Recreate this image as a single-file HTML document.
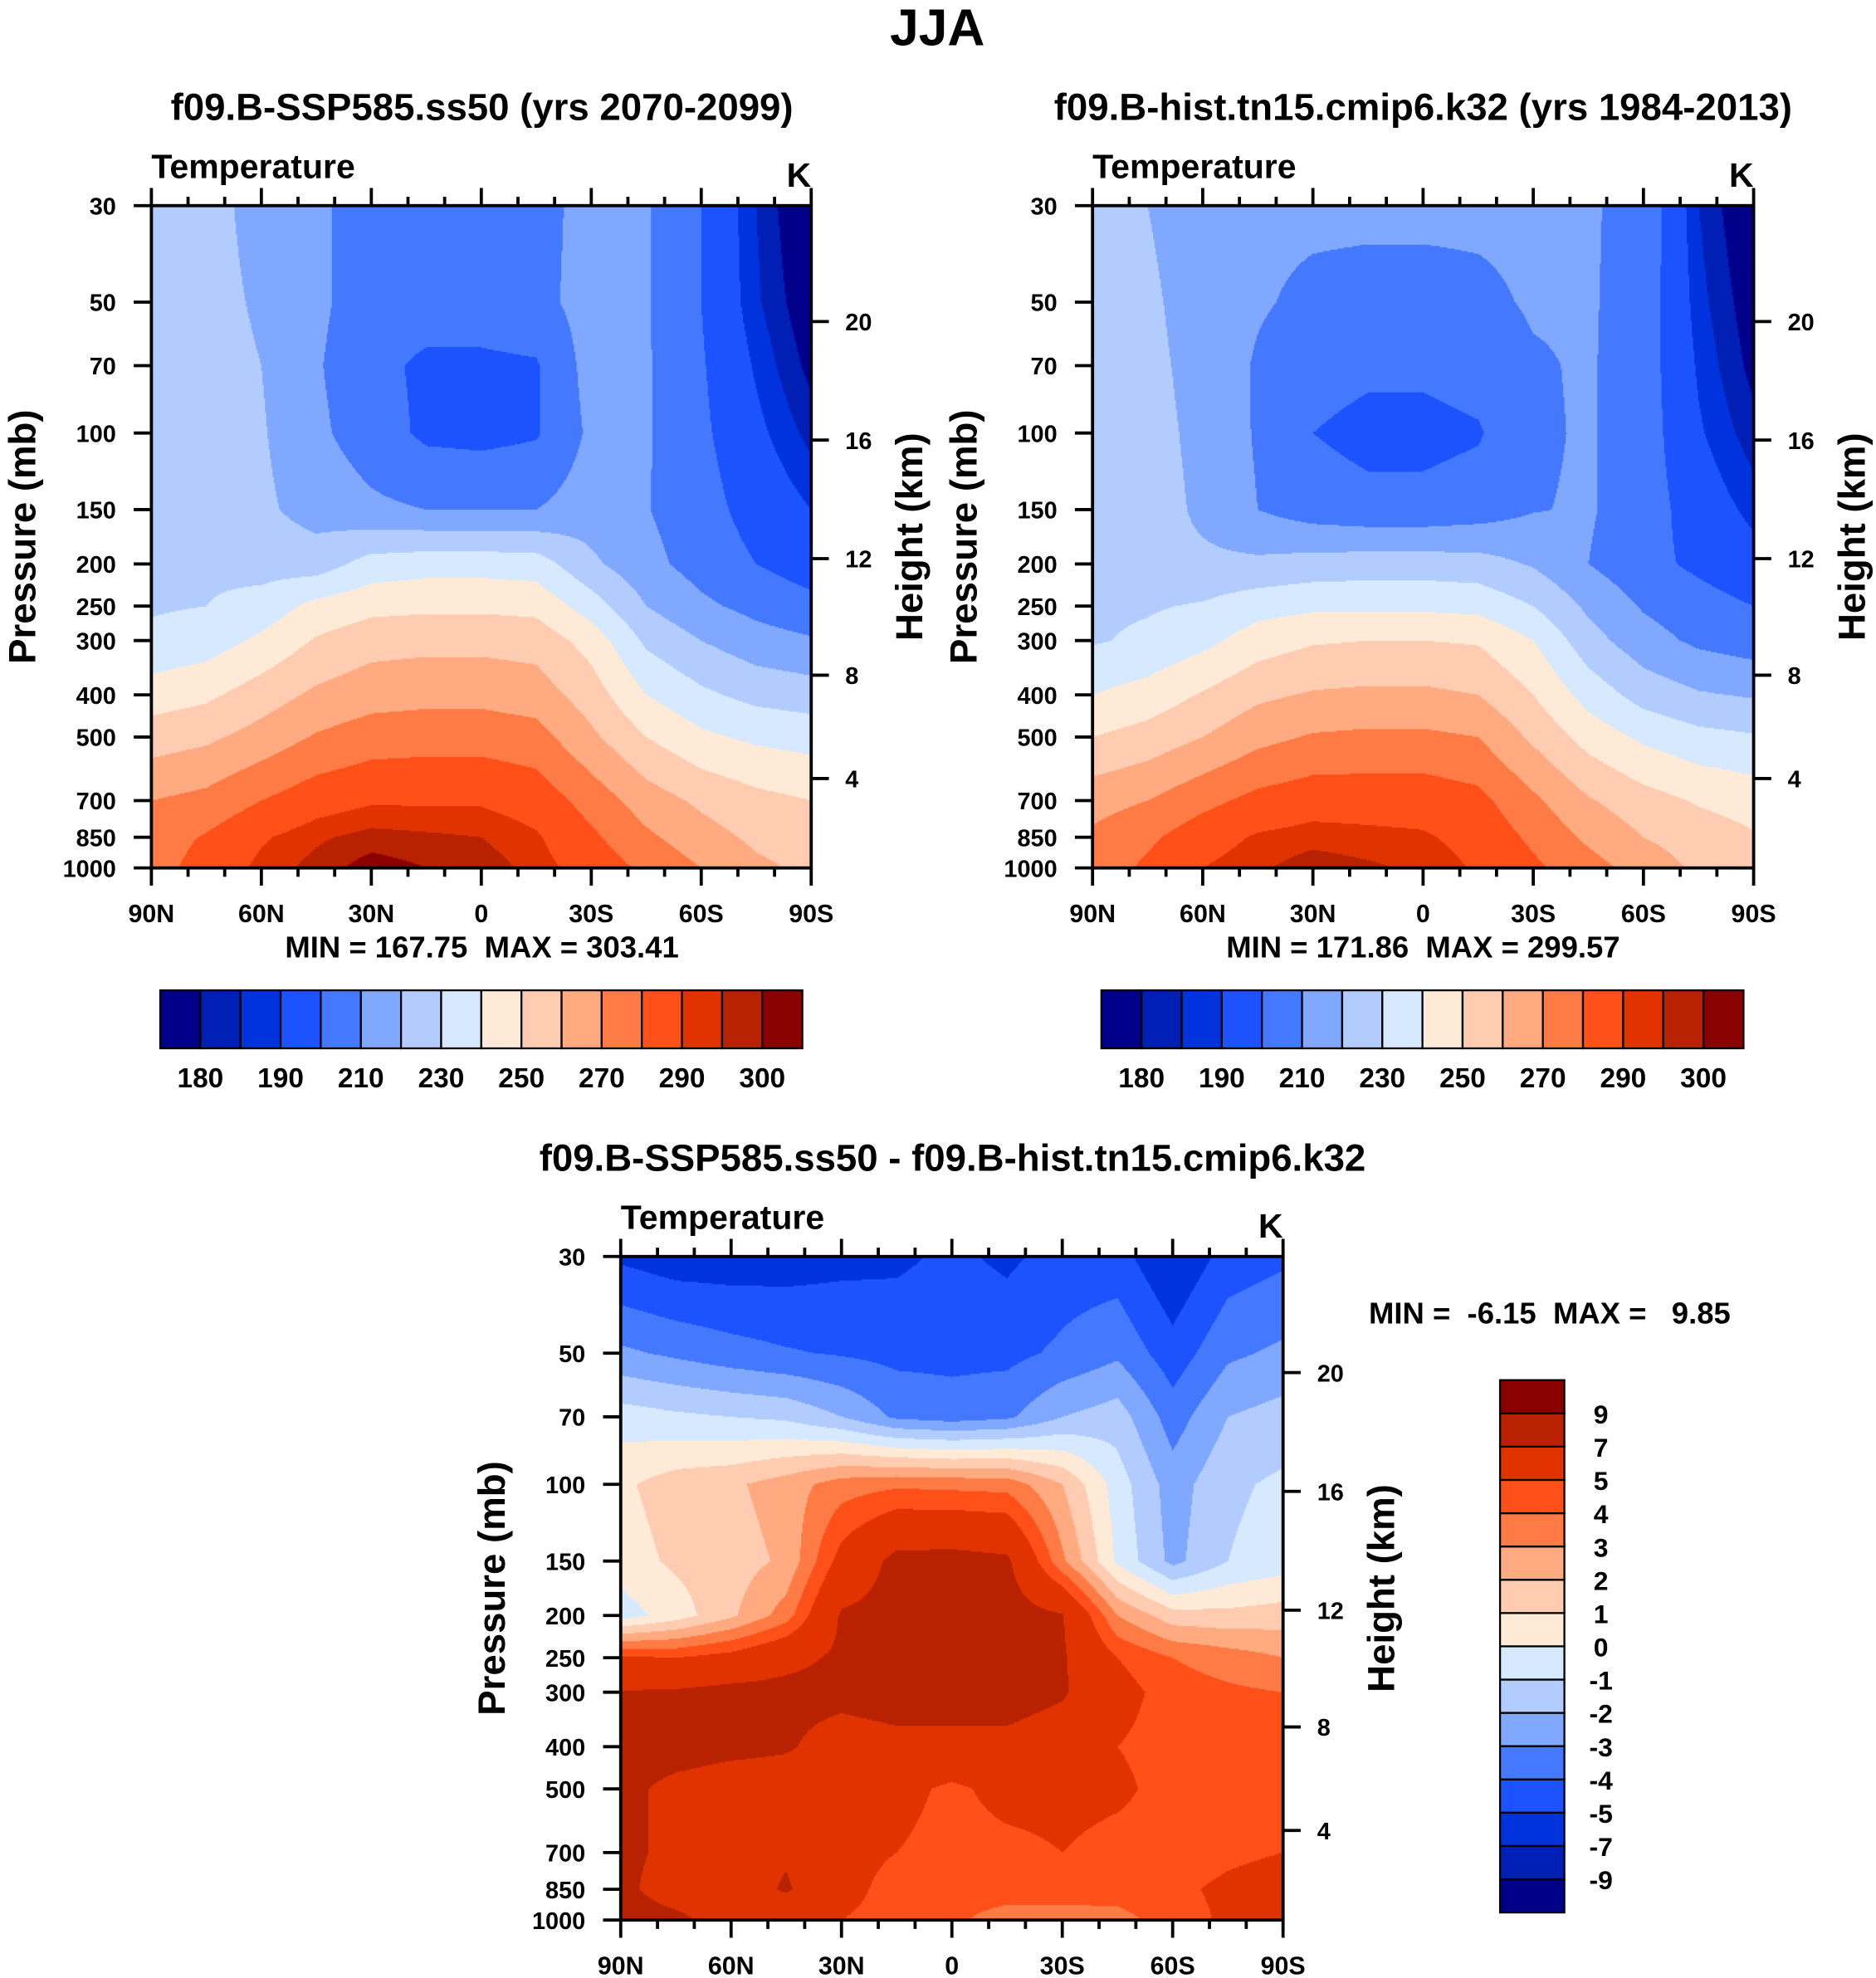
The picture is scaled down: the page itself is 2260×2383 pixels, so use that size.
<!DOCTYPE html>
<html><head><meta charset="utf-8">
<style>
html,body{margin:0;padding:0;background:#fff;}
#page{position:relative;width:1487px;height:1568px;transform:scale(1.51984);transform-origin:0 0;overflow:hidden;}
canvas{position:absolute;}
svg{position:absolute;left:0;top:0;}
text{font-family:"Liberation Sans",sans-serif;font-weight:bold;fill:#000;white-space:pre;}
</style></head>
<body>
<div id="page">
<canvas id="c1"></canvas>
<canvas id="c2"></canvas>
<canvas id="c3"></canvas>
<svg id="ov" width="1487" height="1568" viewBox="0 0 1487 1568"></svg>
</div>
<script>
// ---------- data ----------
const lats = [90,75,60,45,30,15,0,-15,-30,-45,-60,-75,-90];
const levels = [30,50,70,100,150,200,250,300,400,500,700,850,1000];
const futureT = [
[225,225,215,212,205,205,205,206,214,211,200,185,172],
[226,225,218,212,205,205,205,207,214,211,200,186,175],
[227,226,220,211,203,198,198,199,214,211,201,189,178],
[228,227,221,212,205,198,197,199,212,211,202,192,183],
[228,227,222,216,212,210,210,210,215,210.5,204,196,190],
[228,228,226,225,234,236,236,235,222,213,206,200,195],
[229,230,234,243,247,248,248,247,235,220,212,207,203],
[232,235,242,251,256,257,257,256,246,228,220,214,211],
[245,248,255,262,266,267,267,265,255,240,232,227,225],
[255,258,264,271,275,276,276,274,262,250,242,238,236],
[270,273,280,286,289,289,289,286,276,265,258,253,250],
[275,281,289,294,297,296,295,291,282,272,264,258,255],
[276,284,292,297,303,300,298,293,286,278,270,262,258]];
const histT = [
[225,220,214,212,212,212,212,212,212,211,207,185,173],
[226,222,215,211,208,207,207,208,211,211,206,187,176],
[227,223,216,209,204,202,202,204,209,211,205,189,178],
[227,224,217,209,200,197,197,199,208.5,211,205,191,182],
[227,225,218,210,205,203,203,205,209.5,211,205,195,188],
[226,222,222,222,224,225,225,224,219,210,203,198,193],
[228,229,231,236,238,238,238,237,230,218,209,204,200],
[229,232,237,245,249,250,250,249,240,224,214,208,205],
[240,244,251,258,261,262,262,260,250,236,226,221,219],
[250,254,260,267,271,272,272,270,258,246,238,233,231],
[266,270,277,283,286,286,286,283,272,261,254,249,246],
[272,278,286,291,293,292,291,287,278,268,260,255,251],
[274,282,290,294,298,296,294,289,282,274,266,258,254]];
const diffT = [
[-5.2,-5.6,-5.6,-5.5,-5.3,-5.2,-4.8,-5.2,-4.6,-4.6,-6,-4.6,-4.2],
[-2.8,-3.2,-3.6,-3.9,-4.1,-4.3,-4.3,-4.3,-3.8,-3.2,-4.6,-3.2,-2.8],
[-0.5,-0.8,-1,-1.2,-2,-3.2,-3.5,-3.2,-2,-1.5,-3.5,-2,-1.6],
[0.8,1.5,1.8,2.5,3.5,3.8,3.7,3.6,2,-0.5,-2.5,-1.2,-0.8],
[0.5,1.2,1.5,2.2,5.5,7.5,7.6,7.3,3.2,-0.2,-2.3,-1,-0.5],
[-0.5,0.5,1.8,3.5,7.2,7.6,7.8,7.8,7.1,3,1.4,1.3,1.5],
[5.2,5,5.5,6.5,7.3,7.6,7.8,7.8,7.2,5,4,3.5,3],
[7.1,7.2,7.5,7.5,7.5,7.8,7.8,7.8,7.2,5.5,4.5,4.2,4],
[8,7.8,7.5,7.2,6.2,6.5,6.5,6.5,6,5,4.5,4.5,4.3],
[7.5,6.5,6,6,5.8,5.5,4.7,5.5,5.5,5.3,4.5,4.5,4.5],
[7.5,6.5,6.5,6.8,5.5,5,4.5,4.6,5,4.5,4.5,4.8,5],
[7.5,6,6,7.2,5.5,4.5,4.5,4.5,4.5,4.5,4.8,5.2,5.5],
[8,7.5,6,5.5,5,4.5,4.2,3.5,3.5,3.6,4.5,5.2,5.5]];
const tempLevels = [180,185,190,200,210,220,230,240,250,260,270,280,290,295,300];
const tempLabels = ["180","","190","","210","","230","","250","","270","","290","","300"];
const diffLevels = [-9,-7,-5,-4,-3,-2,-1,0,1,2,3,4,5,7,9];
const pTicks = [30,50,70,100,150,200,250,300,400,500,700,850,1000];
const latTickLabels = ["90N","60N","30N","0","30S","60S","90S"];
const heightTicks = ["20","16","12","8","4"];
const heightFrac = [0.175,0.354,0.533,0.709,0.865];
const colors = ["#00008b","#001fb5","#0033dd","#1c52ff","#4479ff","#80a8ff","#b3ccff","#d6e9ff","#ffead8","#ffccb2","#ffaa80","#ff7b45","#ff5019","#e03300","#b82200","#8b0000"];

// ---------- helpers ----------
const NS="http://www.w3.org/2000/svg";
const ov=document.getElementById('ov');
function el(tag,attrs,parent,txt){const e=document.createElementNS(NS,tag);for(const k in attrs)e.setAttribute(k,attrs[k]);if(txt!==undefined)e.textContent=txt;(parent||ov).appendChild(e);return e;}
function txt(x,y,s,size,anchor,name,rot){
  const t=el('text',{x:x,y:y,'font-size':size,'text-anchor':anchor||'middle'},ov,s);
  if(rot)t.setAttribute('transform','rotate(-90 '+x+' '+y+')');
  
  
  return t;
}
function colorFor(v,lv){let i=0;while(i<lv.length&&v>=lv[i])i++;return colors[i];}
const lp0=Math.log(30),lp1=Math.log(1000);
const lpLev=levels.map(p=>Math.log(p));

function sample(data,fx,lpv){
  const xi=fx*(lats.length-1);const i0=Math.min(Math.floor(xi),lats.length-2);const tx=xi-i0;
  let j0=0;while(j0<levels.length-2&&lpv>lpLev[j0+1])j0++;
  const ty=Math.max(0,Math.min(1,(lpv-lpLev[j0])/(lpLev[j0+1]-lpLev[j0])));
  const a=data[j0][i0],b=data[j0][i0+1],c=data[j0+1][i0],d=data[j0+1][i0+1];
  return (a*(1-tx)+b*tx)*(1-ty)+(c*(1-tx)+d*tx)*ty;
}

function panel(id,X,Y,W,H,data,lv,cname){
  const cv=document.getElementById(id);
  const R=2;
  cv.width=W*R;cv.height=H*R;
  cv.style.left=X+'px';cv.style.top=Y+'px';cv.style.width=W+'px';cv.style.height=H+'px';
  const ctx=cv.getContext('2d');
  const step=2;
  for(let py=0;py<H*R;py+=step){
    const lpv=lp0+(py+step/2)/(H*R)*(lp1-lp0);
    for(let px=0;px<W*R;px+=step){
      const v=sample(data,(px+step/2)/(W*R),lpv);
      ctx.fillStyle=colorFor(v,lv);
      ctx.fillRect(px,py,step,step);
    }
  }
  const fr=el('rect',{x:X,y:Y,width:W,height:H,fill:'none',stroke:'#000','stroke-width':2.5});
  
  
  const yOf=p=>Y+(Math.log(p)-lp0)/(lp1-lp0)*H;
  pTicks.forEach(p=>{
    const y=yOf(p);
    el('line',{x1:X-14,y1:y,x2:X,y2:y,stroke:'#000','stroke-width':2.5});
    txt(X-28,y+7,String(p),19,'end',cname+'-pressure-tick-label');
  });
  for(let k=0;k<=18;k++){
    const x=X+k/18*W;const major=k%3===0;const len=major?14:7;
    el('line',{x1:x,y1:Y-len,x2:x,y2:Y,stroke:'#000','stroke-width':2.5});
    el('line',{x1:x,y1:Y+H,x2:x,y2:Y+H+len,stroke:'#000','stroke-width':2.5});
    if(major) txt(x,Y+H+43,latTickLabels[k/3],20,'middle',cname+'-lat-tick-label');
  }
  heightTicks.forEach((h,i)=>{
    const y=Y+heightFrac[i]*H;
    el('line',{x1:X+W,y1:y,x2:X+W+14,y2:y,stroke:'#000','stroke-width':2.5});
    txt(X+W+27,y+7,h,19,'start',cname+'-height-tick-label');
  });
  txt(X,Y-22,"Temperature",27,'start',cname+'-variable-label');
  txt(X+W,Y-15,"K",27,'end',cname+'-units-label');
  txt(X-92,Y+H/2,"Pressure (mb)",30,'middle',cname+'-y-axis-title',true);
  txt(X+W+88,Y+H/2,"Height (km)",30,'middle',cname+'-right-axis-title',true);
}

function hbar(X,Y,W,H,name){
  const n=colors.length,bw=W/n;
  for(let i=0;i<n;i++){
    const r=el('rect',{x:X+i*bw,y:Y,width:bw,height:H,fill:colors[i],stroke:'#000','stroke-width':1.5});
    
    
  }
  tempLabels.forEach((s,i)=>{ if(s) txt(X+(i+1)*bw,Y+H+31,s,22,'middle',name+'-label'); });
}
function vbar(X,Y,W,H,name){
  const n=colors.length,bh=H/n;
  for(let i=0;i<n;i++){
    const r=el('rect',{x:X,y:Y+H-(i+1)*bh,width:W,height:bh,fill:colors[i],stroke:'#000','stroke-width':1.5});
    
    
  }
  diffLevels.forEach((v,i)=>{ txt(X+W+29,Y+H-(i+1)*bh+8,String(v),21,'middle',name+'-label'); });
}

// ---------- figure ----------
txt(743,36,"JJA",41,'middle','figure-title');
txt(382,95,"f09.B-SSP585.ss50 (yrs 2070-2099)",30,'middle','future-panel-title');
txt(1128,95,"f09.B-hist.tn15.cmip6.k32 (yrs 1984-2013)",30,'middle','historical-panel-title');
txt(755,928,"f09.B-SSP585.ss50 - f09.B-hist.tn15.cmip6.k32",30,'middle','difference-panel-title');

panel('c1',120,163,523,525,futureT,tempLevels,'future');
panel('c2',866,163,524,525,histT,tempLevels,'historical');
panel('c3',492,996,525,526,diffT,diffLevels,'difference');

txt(382,759,"MIN = 167.75  MAX = 303.41",24,'middle','future-min-max');
txt(1128,759,"MIN = 171.86  MAX = 299.57",24,'middle','historical-min-max');
txt(1085,1049,"MIN =  -6.15  MAX =   9.85",24,'start','difference-min-max');

hbar(127,785,509,46,'future-colorbar');
hbar(873,785,509,46,'historical-colorbar');
vbar(1189,1094,51,422,'difference-colorbar');
</script>
</body></html>
